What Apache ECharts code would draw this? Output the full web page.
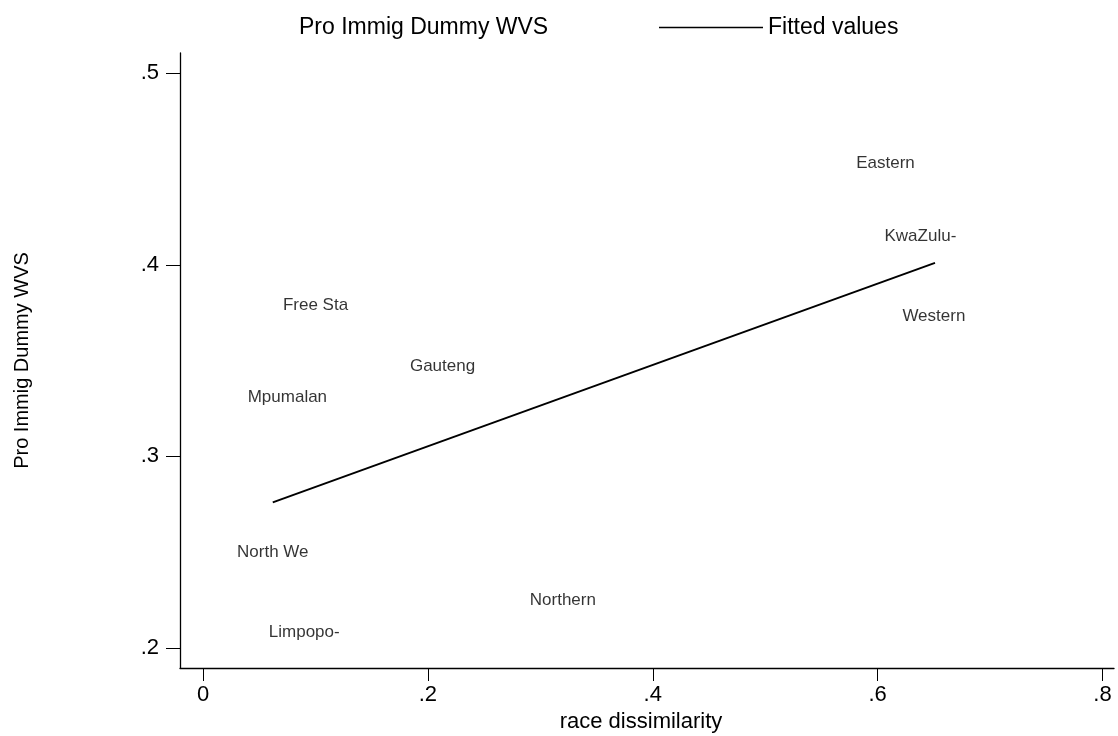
<!DOCTYPE html>
<html>
<head>
<meta charset="utf-8">
<script src="https://cdn.jsdelivr.net/npm/echarts@6/dist/echarts.min.js"></script>
<style>
html,body{margin:0;padding:0;background:#fff;}
#chart{width:1118px;height:736px;}
</style>
</head>
<body>
<div id="chart"></div>
<script>
// Data
const regions    = ['Eastern','KwaZulu-','Western','Free Sta','Gauteng','Mpumalan','North We','Northern','Limpopo-'];
const raceDissim = [0.607, 0.638, 0.650, 0.100, 0.213, 0.075, 0.062, 0.320, 0.090];
const proImmig   = [0.453, 0.415, 0.373, 0.379, 0.347, 0.331, 0.250, 0.225, 0.208];
const fitX = [0.062, 0.651];
const fitY = [0.276, 0.401];
const xTicks = [0, 0.2, 0.4, 0.6, 0.8];
const yTicks = [0.2, 0.3, 0.4, 0.5];

const FONT = '"Liberation Sans", Arial, sans-serif';
const fmt = v => { const s = (Math.round(v*10)/10).toString(); return s === '0' ? '0' : s.replace(/^0\./, '.'); };

const chart = echarts.init(document.getElementById('chart'), null, {renderer:'canvas'});
chart.setOption({
  animation:false,
  backgroundColor:'#fff',
  textStyle:{fontFamily:FONT},
  grid:{left:180, right:4, top:53, bottom:68, outerBoundsMode:'none', containLabel:false},
  legend:[
    {data:[{name:'Pro Immig Dummy WVS', icon:'rect', itemStyle:{color:'rgba(0,0,0,0)', borderWidth:0}}],
     left:288, top:11, itemWidth:1, itemHeight:1, itemGap:0,
     textStyle:{fontFamily:FONT, fontSize:23, color:'#000'}, selectedMode:false},
    {data:[{name:'Fitted values', icon:'rect', itemStyle:{color:'#000', borderWidth:0}}],
     left:654, top:11, itemWidth:104, itemHeight:1.5, itemGap:0,
     textStyle:{fontFamily:FONT, fontSize:23, color:'#000'}, selectedMode:false}
  ],
  xAxis:{
    type:'value', min:-0.0205, max:0.8102,
    name:'race dissimilarity', nameLocation:'middle', nameGap:40,
    nameTextStyle:{fontFamily:FONT, fontSize:22, color:'#000', padding:[0,12,0,0]},
    axisLine:{show:true, onZero:false, lineStyle:{color:'#000', width:1.3}},
    axisTick:{show:true, length:13, lineStyle:{color:'#000', width:1}, customValues:xTicks},
    axisLabel:{fontFamily:FONT, fontSize:22, color:'#000', margin:16, customValues:xTicks, formatter:fmt},
    splitLine:{show:false}
  },
  yAxis:{
    type:'value', min:0.1895, max:0.5106,
    name:'Pro Immig Dummy WVS', nameLocation:'middle', nameGap:148,
    nameTextStyle:{fontFamily:FONT, fontSize:20, color:'#000'},
    axisLine:{show:true, onZero:false, lineStyle:{color:'#000', width:1.3}},
    axisTick:{show:true, length:14, lineStyle:{color:'#000', width:1}, customValues:yTicks},
    axisLabel:{fontFamily:FONT, fontSize:22, color:'#000', margin:21, customValues:yTicks, formatter:fmt},
    splitLine:{show:false}
  },
  series:[
    {
      name:'Pro Immig Dummy WVS', type:'scatter', symbolSize:1,
      itemStyle:{color:'rgba(0,0,0,0)'},
      data: regions.map((r,i)=>({name:r, value:[raceDissim[i], proImmig[i]]})),
      label:{show:true, position:'inside', formatter:p=>p.name, fontFamily:FONT, fontSize:17, color:'#000'},
      emphasis:{disabled:true}
    },
    {
      name:'Fitted values', type:'line', symbol:'none',
      lineStyle:{color:'#000', width:2},
      itemStyle:{color:'#000'},
      data: fitX.map((x,i)=>[x, fitY[i]]),
      emphasis:{disabled:true}
    }
  ]
});
</script>
</body>
</html>
